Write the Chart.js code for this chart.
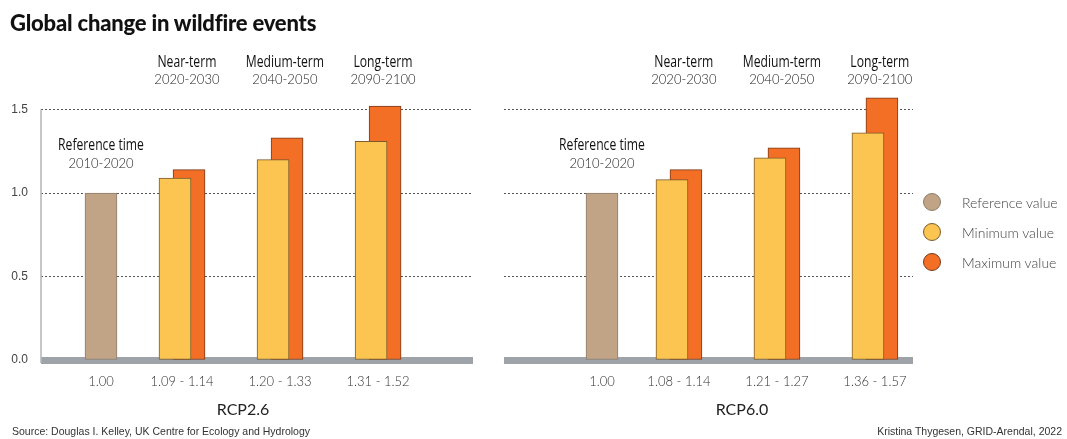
<!DOCTYPE html>
<html>
<head>
<meta charset="utf-8">
<title>Global change in wildfire events</title>
<script src="https://cdn.jsdelivr.net/npm/chart.js@4.4.1/dist/chart.umd.min.js"></script>
<style>
  body { margin: 0; background: #fff; }
  #wrap { position: relative; width: 1067px; height: 439px; overflow: hidden; }
  #wrap canvas { position: absolute; left: 0; top: 0; }
  h1 { position: absolute; left: 10px; top: 9px; margin: 0; font: 900 22px Lato, sans-serif; color: #111; letter-spacing: -0.2px; }
  .note { position: absolute; top: 425px; font: 10.5px "Liberation Sans", Arial, sans-serif; color: #333; }
  #legend { position: absolute; left: 923px; top: 187px; }
  #legend div { height: 30px; display: flex; align-items: center; font: 300 14px Lato, sans-serif; color: #444; }
  #legend span { width: 18px; height: 18px; border-radius: 50%; box-sizing: border-box; border: 1px solid; margin-right: 21px; }
</style>
</head>
<body>
<div id="wrap">
  <canvas id="rcp26" width="1067" height="439"></canvas>
  <canvas id="rcp60" width="1067" height="439"></canvas>
  <h1>Global change in wildfire events</h1>
  <div id="legend"></div>
  <div class="note" style="left:12px">Source: Douglas I. Kelley, UK Centre for Ecology and Hydrology</div>
  <div class="note" style="right:5px">Kristina Thygesen, GRID-Arendal, 2022</div>
</div>
<script>
// periods shown above the bars
const periods = ['Reference time', 'Near-term', 'Medium-term', 'Long-term'];
const periodYears = ['2010-2020', '2020-2030', '2040-2050', '2090-2100'];

// wildfire event index, reference period = 1
const referenceValue = 1.00;
const rcp26Min = [1.09, 1.20, 1.31];
const rcp26Max = [1.14, 1.33, 1.52];
const rcp60Min = [1.08, 1.21, 1.36];
const rcp60Max = [1.14, 1.27, 1.57];

const yTicks = [0, 0.5, 1.0, 1.5];
const seriesNames = ['Reference value', 'Minimum value', 'Maximum value'];

const FILL = ['#c1a486', '#fcc451', '#f26f25'];
const EDGE = ['#8d7d6d', '#7a5a2a', '#7a3a1a'];
const MAX_SHIFT = 0.143;   // max bar sits just right of the min bar
const Y_MAX = 1.6;

const HEAD = "500 16px 'Open Sans', sans-serif";   // squeezed horizontally when drawn
const LIGHT = "Lato, sans-serif";

function text(ctx, str, x, y, font, color, squeeze) {
  const k = squeeze || 1;
  ctx.save();
  ctx.font = font;
  ctx.fillStyle = color;
  ctx.textAlign = 'center';
  ctx.textBaseline = 'alphabetic';
  ctx.translate(x, y);
  ctx.scale(k, 1);
  ctx.fillText(str, 0, 0);
  ctx.restore();
}

// gray floor band, y axis line and all the period / value labels
const panelDecor = {
  id: 'panelDecor',
  beforeDatasetsDraw(chart, args, opts) {
    const { ctx, chartArea: a, scales: { y } } = chart;
    const y0 = y.getPixelForValue(0);
    ctx.save();
    ctx.fillStyle = '#9ea3aa';
    ctx.fillRect(a.left, y0 - 3, a.right - a.left, 7);
    if (opts.axisLine) {
      ctx.strokeStyle = '#b4b4b4';
      ctx.lineWidth = 1.5;
      ctx.beginPath();
      ctx.moveTo(a.left, y.getPixelForValue(yTicks[yTicks.length - 1]));
      ctx.lineTo(a.left, y0 + 3);
      ctx.stroke();
    }
    ctx.restore();
  },
  afterDraw(chart, args, opts) {
    const { ctx, scales: { x } } = chart;
    const mins = opts.mins, maxs = opts.maxs;
    // reference period
    const rx = x.getPixelForValue(opts.refSlot);
    text(ctx, periods[0], rx, 150, HEAD, '#111', 0.76);
    text(ctx, periodYears[0], rx, 168, '300 13px ' + LIGHT, '#222');
    text(ctx, referenceValue.toFixed(2), rx, 386, '300 13px ' + LIGHT, '#333');
    // future periods
    mins.forEach((v, i) => {
      const gx = x.getPixelForValue(i + 1 + MAX_SHIFT / 2);
      const hx = x.getPixelForValue(i + 1 + MAX_SHIFT / 2 + 0.05);
      text(ctx, periods[i + 1], hx, 67, HEAD, '#111', 0.76);
      text(ctx, periodYears[i + 1], hx, 84, '300 13px ' + LIGHT, '#222');
      text(ctx, v.toFixed(2) + ' - ' + maxs[i].toFixed(2), gx, 386, '300 13px ' + LIGHT, '#333');
    });
    // scenario name under the bars
    const first = x.getPixelForValue(opts.refSlot);
    const last = x.getPixelForValue(mins.length + MAX_SHIFT);
    text(ctx, opts.name, (first + last) / 2, 415, '400 16px ' + LIGHT, '#222');
  }
};

function drawPanel(id, name, mins, maxs, lay) {
  const slots = mins.map((_, i) => i + 1);
  new Chart(document.getElementById(id), {
    type: 'bar',
    data: {
      datasets: [
        { label: seriesNames[0], data: [{ x: lay.refSlot, y: referenceValue }] },
        { label: seriesNames[1], data: slots.map((s, i) => ({ x: s, y: mins[i] })) },
        { label: seriesNames[2], data: slots.map((s, i) => ({ x: s + MAX_SHIFT, y: maxs[i] })) }
      ].map((d, i) => Object.assign(d, { backgroundColor: FILL[i], borderColor: EDGE[i] }))
    },
    options: {
      responsive: false,
      animation: false,
      events: [],
      layout: { padding: { left: lay.left, right: 1067 - lay.right, top: 92.8, bottom: 79 } },
      datasets: { bar: { grouped: false, barThickness: 32, borderWidth: 1, borderSkipped: false } },
      plugins: {
        legend: { display: false },
        tooltip: { enabled: false },
        panelDecor: { name, mins, maxs, refSlot: lay.refSlot, axisLine: lay.axisLine }
      },
      scales: {
        x: { type: 'linear', display: false, offset: false, min: lay.xMin, max: lay.xMax },
        y: {
          min: 0,
          max: Y_MAX,
          afterBuildTicks: s => { s.ticks = yTicks.map(v => ({ value: v })); },
          afterFit: s => { s.width = lay.axisLine ? 41 : 0; },
          border: { display: false, dash: [2, 2] },
          grid: {
            drawTicks: false,
            lineWidth: 1,
            color: c => (c.tick && c.tick.value > 0 ? '#555' : 'rgba(0,0,0,0)')
          },
          ticks: {
            display: lay.axisLine,
            padding: 13,
            color: '#444',
            font: { family: "'Liberation Sans', Arial, sans-serif", size: 12 },
            callback: v => v.toFixed(1)
          }
        }
      }
    },
    plugins: [panelDecor]
  });
}

drawPanel('rcp26', 'RCP2.6', rcp26Min, rcp26Max,
  { left: 0, right: 473, xMin: -0.367, xMax: 4.04, refSlot: 0.245, axisLine: true });
drawPanel('rcp60', 'RCP6.0', rcp60Min, rcp60Max,
  { left: 504, right: 913, xMin: -0.714, xMax: 3.46, refSlot: 0.286, axisLine: false });

// legend
const legend = document.getElementById('legend');
seriesNames.forEach((n, i) => {
  const row = document.createElement('div');
  row.innerHTML = `<span style="background:${FILL[i]};border-color:${EDGE[i]}"></span>${n}`;
  legend.appendChild(row);
});
</script>
</body>
</html>
